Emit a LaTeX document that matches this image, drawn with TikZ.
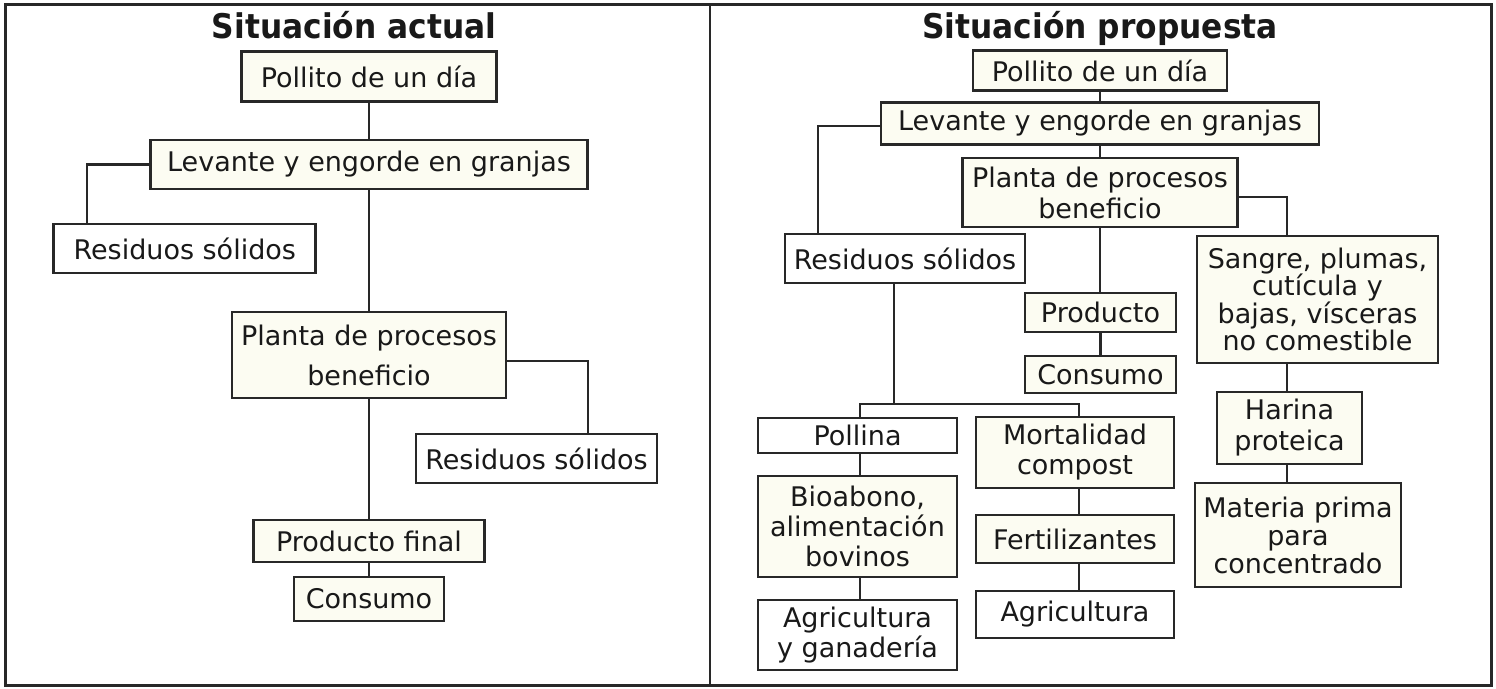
\documentclass[tikz,border=0pt]{standalone}
\usepackage{fontspec}
\setmainfont{DejaVu Sans}
\newfontfamily\ttlfont{DejaVu Sans}[FakeStretch=0.92]
\definecolor{cream}{RGB}{252,252,242}
\definecolor{linec}{RGB}{40,40,40}
\definecolor{textc}{RGB}{25,25,25}
\newcommand{\fs}[1]{\fontsize{27}{#1}\selectfont}
\begin{document}
\begin{tikzpicture}[x=1pt,y=-1pt,
  bx/.style={draw=linec, line width=2.8pt, fill=cream, inner sep=0pt, align=center, text=textc, font=\fs{29}},
  wbx/.style={bx, fill=white},
  ln/.style={draw=linec, line width=2.5pt},
  ttl/.style={font=\ttlfont\fontsize{34}{36}\selectfont\bfseries, text=textc, anchor=base, inner sep=0pt}]
\useasboundingbox (0,0) rectangle (1496,688);
\draw[line width=3pt, draw=linec] (5,4) rectangle (1491,685);
\draw[line width=2.4pt, draw=linec] (710,4) -- (710,685);

% titles
\node[ttl] (t1) at (354,38.5) {Situación actual};
\node[ttl] (t2) at (1100,38.5) {Situación propuesta};

% left panel
\node[bx, minimum width=255, minimum height=50] (Lpol) at (369,76.7) {Pollito de un día};
\node[bx, minimum width=437, minimum height=49] (Llev) at (369,164.5) {Levante y engorde en granjas};
\node[wbx, minimum width=262, minimum height=49] (Lres1) at (184.75,248.5) {Residuos sólidos};
\node[bx, minimum width=274, minimum height=86, font=\fs{40}] (Lpla) at (369,355) {Planta de procesos\\beneficio};
\node[wbx, minimum width=241, minimum height=49] (Lres2) at (536.5,458.5) {Residuos sólidos};
\node[bx, minimum width=231, minimum height=42] (Lprod) at (369,541) {Producto final};
\node[bx, minimum width=150, minimum height=44] (Lcons) at (369,599) {Consumo};

\coordinate (la) at (87,0);
\coordinate (lb) at (588,0);
\draw[ln] (Lpol.south) -- (Llev.north);
\draw[ln] (Llev.west) -| (la |- Lres1.north);
\draw[ln] (Llev.south) -- (Lpla.north);
\draw[ln] ([yshift=-6pt]Lpla.east) -| (lb |- Lres2.north);
\draw[ln] (Lpla.south) -- (Lprod.north);
\draw[ln] (Lprod.south) -- (Lcons.north);

% right panel
\node[bx, minimum width=254, minimum height=40] (Rpol) at (1100,70.4) {Pollito de un día};
\node[bx, minimum width=438, minimum height=42] (Rlev) at (1100,123.5) {Levante y engorde en granjas};
\node[bx, minimum width=275, minimum height=69, font=\fs{31}] (Rpla) at (1100,192.5) {Planta de procesos\\beneficio};
\node[wbx, minimum width=240, minimum height=49] (Rres) at (905,258.5) {Residuos sólidos};
\node[bx, minimum width=151, minimum height=39] (Rprod) at (1100.5,312.5) {Producto};
\node[bx, minimum width=151, minimum height=37] (Rcons) at (1100.5,374.5) {Consumo};
\node[bx, minimum width=241, minimum height=127, font=\fs{27.5}] (Rsan) at (1317.5,299.5) {Sangre, plumas,\\cutícula y\\bajas, vísceras\\no comestible};
\node[bx, minimum width=145, minimum height=72, font=\fs{31}] (Rhar) at (1289.5,428) {Harina\\proteica};
\node[bx, minimum width=206, minimum height=104, font=\fs{28}] (Rmat) at (1298,535) {Materia prima\\para\\concentrado};
\node[wbx, minimum width=199, minimum height=35] (Rpoll) at (857.5,435.5) {Pollina};
\node[bx, minimum width=198, minimum height=71, font=\fs{30}] (Rmor) at (1075,452.5) {Mortalidad\\compost};
\node[bx, minimum width=199, minimum height=101, font=\fs{30}] (Rbio) at (857.5,526.5) {Bioabono,\\alimentación\\bovinos};
\node[wbx, minimum width=199, minimum height=70, font=\fs{30}] (Ragr1) at (857.5,635) {Agricultura\\y ganadería};
\node[bx, minimum width=198, minimum height=48] (Rfer) at (1075,539) {Fertilizantes};
\node[wbx, minimum width=198, minimum height=47] (Ragr2) at (1075,614.5) {Agricultura};

\coordinate (ra) at (818,0);
\coordinate (rb) at (1287,0);
\coordinate (rc) at (894,0);
\coordinate (xa) at (860,0);
\coordinate (xb) at (1079,0);
\coordinate (j) at (894,404);
\draw[ln] (Rpol.south) -- (Rlev.north);
\draw[ln] ([yshift=-2.5pt]Rlev.west) -| (ra |- Rres.north);
\draw[ln] (Rlev.south) -- (Rpla.north);
\draw[ln] ([yshift=-4.5pt]Rpla.east) -| (rb |- Rsan.north);
\draw[ln] (Rpla.south) -- (Rpla.south |- Rprod.north);
\draw[ln] (Rprod.south) -- (Rcons.north);
\draw[ln] (rc |- Rres.south) -- (j);
\draw[ln] (xa |- Rpoll.north) -- (xa |- j) -- (xb |- j) -- (xb |- Rmor.north);
\draw[ln] (xa |- Rpoll.south) -- (xa |- Rbio.north);
\draw[ln] (xa |- Rbio.south) -- (xa |- Ragr1.north);
\draw[ln] (xb |- Rmor.south) -- (xb |- Rfer.north);
\draw[ln] (xb |- Rfer.south) -- (xb |- Ragr2.north);
\draw[ln] (rb |- Rsan.south) -- (rb |- Rhar.north);
\draw[ln] (rb |- Rhar.south) -- (rb |- Rmat.north);
\end{tikzpicture}
\end{document}
